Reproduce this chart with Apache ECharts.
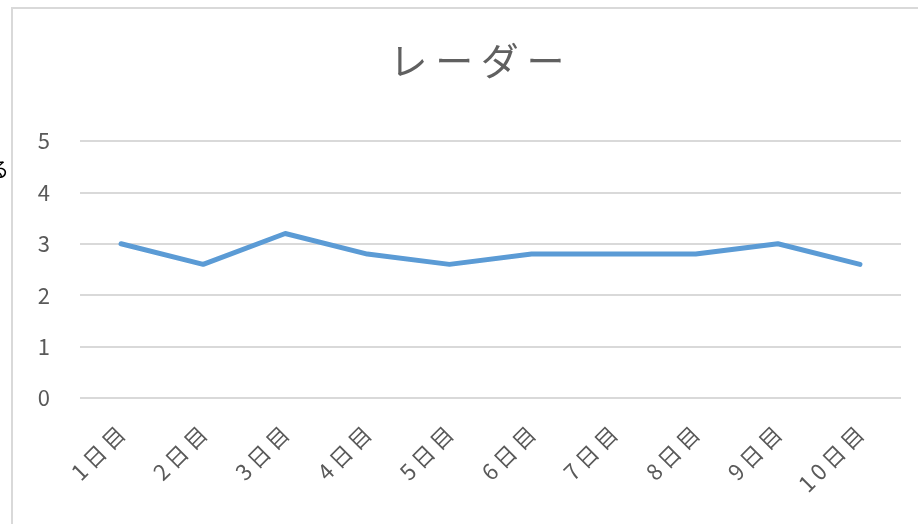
<!DOCTYPE html>
<html>
<head>
<meta charset="utf-8">
<script src="https://cdn.jsdelivr.net/npm/echarts@6/dist/echarts.min.js"></script>
<style>
  html, body { margin: 0; padding: 0; background: #fff; }
  #chart { width: 918px; height: 524px; }
</style>
</head>
<body>
<div id="chart"></div>
<script>
// Daily readings over ten days
const categories = ['1日目', '2日目', '3日目', '4日目', '5日目', '6日目', '7日目', '8日目', '9日目', '10日目'];
const values = [3.0, 2.6, 3.2, 2.8, 2.6, 2.8, 2.8, 2.8, 3.0, 2.6];
const yTicks = [0, 1, 2, 3, 4, 5];
const chartTitle = 'レーダー';

const font = '"Noto Sans CJK JP", "Noto Sans", sans-serif';
const textColor = '#595959';

// Widen glyph spacing a little with thin spaces between characters
const spaced = (s, gap) => Array.from(s).join(gap);

const chart = echarts.init(document.getElementById('chart'));
chart.setOption({
  animation: false,
  backgroundColor: '#ffffff',
  title: {
    text: spaced(chartTitle, '\u2009'),
    left: 472,
    top: 37,
    textAlign: 'center',
    textStyle: { fontFamily: font, fontSize: 38, fontWeight: 'normal', color: '#606060' }
  },
  graphic: [
    {
      type: 'rect',
      shape: { x: 12, y: 8, width: 940, height: 540 },
      style: { fill: 'none', stroke: '#d9d9d9', lineWidth: 2 },
      silent: true
    },
    {
      type: 'text',
      left: -11,
      top: 159,
      style: { text: 'る', fontFamily: font, fontSize: 20, fill: '#000' },
      silent: true
    }
  ],
  grid: { left: 80, right: 17, top: 141, bottom: 126, containLabel: false },
  xAxis: {
    type: 'category',
    data: categories,
    boundaryGap: true,
    axisLine: { show: false },
    axisTick: { show: false },
    axisLabel: {
      rotate: 45,
      margin: 32,
      fontFamily: font,
      fontSize: 22,
      color: textColor,
      formatter: (v) => spaced(v, '\u2009')
    }
  },
  yAxis: {
    type: 'value',
    min: yTicks[0],
    max: yTicks[yTicks.length - 1],
    interval: 1,
    axisLine: { show: false },
    axisTick: { show: false },
    axisLabel: { margin: 30, fontFamily: font, fontSize: 22, color: textColor },
    splitLine: { lineStyle: { color: '#d9d9d9', width: 2 } }
  },
  series: [{
    type: 'line',
    data: values,
    symbol: 'none',
    lineStyle: { color: '#5b9bd5', width: 5, cap: 'round', join: 'round' }
  }]
});
</script>
</body>
</html>
